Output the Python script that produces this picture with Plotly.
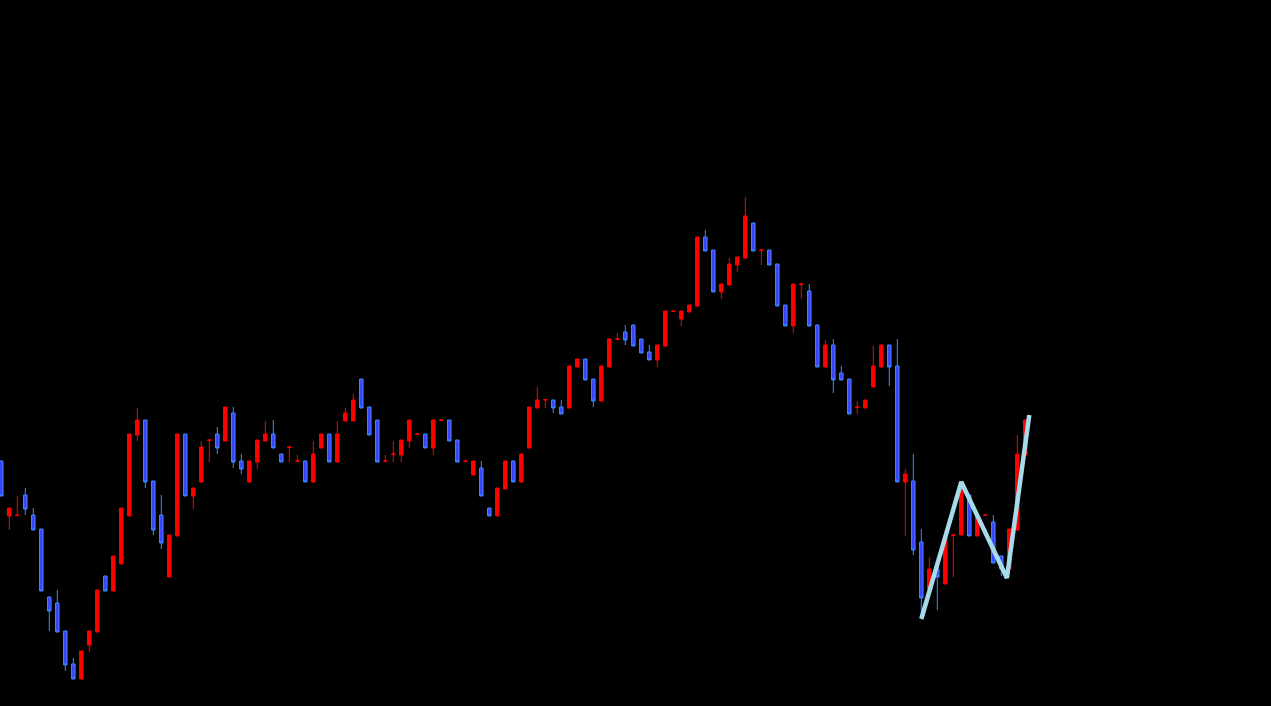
import plotly.graph_objects as go

# candle index (bar number)
bars = list(range(129))

opens = [245, 190, 190.5, 211, 191, 177, 109, 103, 75, 42,
         27, 61, 74, 130, 115, 142, 190, 271, 286, 225,
         191, 129, 170, 272, 210, 224, 265.7, 272, 265, 293,
         245, 224, 244, 265, 272, 252, 258.7, 244.7, 245, 224,
         258, 272, 244, 285, 285, 327, 299, 286, 244.7, 251.7,
         251, 265, 271.7, 272, 258, 285.7, 286, 266, 244.7, 231,
         238, 198, 190, 217, 245, 224, 258, 298, 306, 306,
         299, 298, 339, 347, 327, 305, 339, 366.7, 374, 381,
         367, 354, 346, 360, 394.7, 387, 394, 400, 469, 456,
         414, 421, 441, 448, 483, 455.7, 456, 442, 401, 380,
         421.7, 415, 381, 339, 361, 333, 327, 298.7, 298, 319,
         339, 361, 340, 224, 225, 164, 117, 137, 122, 170.7,
         171, 211, 170, 190.7, 184, 150, 137, 176, 251]

highs = [245, 198, 210, 218, 198, 177, 109, 116, 75, 48,
         55, 75, 116, 130, 150, 198, 272, 298, 286, 225,
         211, 171, 272, 272, 218, 265, 266, 279, 299, 299,
         252, 245, 266, 285, 286, 252, 259, 251, 245, 265,
         272, 272, 285, 298, 312, 327, 299, 286, 251, 265,
         266, 286, 272, 272, 286, 286, 286, 266, 245, 245,
         245, 198, 218, 245, 245, 252, 299, 319, 306.3, 306,
         306, 340, 347, 347, 327, 340, 367, 373, 381, 381,
         367, 361, 361, 395, 395, 395, 401, 469, 476, 456,
         422, 448, 449, 509, 483, 456, 456, 442, 401, 422,
         422, 422, 381, 366, 367, 340, 327, 305, 306, 360,
         361, 361, 367, 237, 252, 177, 149, 137, 168, 171,
         222, 211, 190, 191, 191, 150, 177, 271, 286]

lows = [210, 176, 190.5, 191, 176, 115, 75, 74, 35, 27,
        27, 54, 74, 115, 115, 142, 190, 265, 218, 171,
        157, 129, 170, 210, 197, 224, 244, 252, 265, 238,
        232, 224, 237, 265, 258, 244, 244, 244.7, 224, 224,
        258, 244, 244, 285, 285, 298, 271, 244, 244.7, 244,
        244, 258, 271.7, 258, 251, 285.7, 265, 244, 244.7, 231,
        210, 190, 190, 217, 224, 224, 258, 298, 298, 293,
        292, 298, 339, 326, 299, 305, 339, 366.7, 361, 360,
        353, 346, 339, 360, 394.7, 380, 394, 400, 455, 414,
        407, 421, 434, 448, 455, 441, 441, 400, 380, 373,
        407, 380, 339, 339, 313, 326, 292, 292, 298, 319,
        339, 320, 224, 170, 151, 90, 117, 96, 122, 129,
        171, 170, 170, 190.7, 143, 130, 137, 176, 251]

closes = [210, 198, 190.8, 197, 176, 115, 95, 74, 41, 27,
          55, 75, 116, 115, 150, 198, 272, 286, 224, 176,
          163, 171, 272, 210, 218, 259, 266, 258, 299, 244,
          237, 245, 266, 272, 258, 244, 259, 245, 224, 252,
          272, 244, 272, 293, 306, 298, 271, 244, 245, 252,
          266, 286, 272, 258, 286, 286, 265, 244, 245, 245,
          210, 190, 218, 245, 224, 252, 299, 306, 306.3, 298,
          292, 340, 347, 326, 305, 340, 367, 367, 366, 360,
          353, 346, 361, 395, 395, 395, 401, 469, 455, 414,
          422, 442, 449, 490, 455, 456, 441, 400, 380, 422,
          422, 380, 339, 361, 326, 326, 292, 299, 306, 340,
          361, 339, 224, 232, 156, 108, 137, 129, 168, 171,
          216, 170, 190, 191, 143, 137, 177, 252, 286]

# zigzag overlay (bar position, price)
zigzag_x = [115, 120, 125.7, 128.5]
zigzag_y = [87, 224, 128, 291]

fig = go.Figure()
fig.add_trace(go.Candlestick(
    x=bars, open=opens, high=highs, low=lows, close=closes,
    increasing=dict(line=dict(color="#ff0000", width=1), fillcolor="#ff0000"),
    decreasing=dict(line=dict(color="#3a8cff", width=1), fillcolor="#4040ff"),
    whiskerwidth=0,
    hoverinfo="skip",
))
fig.add_trace(go.Scatter(
    x=zigzag_x, y=zigzag_y, mode="lines",
    line=dict(color="#a6dcea", width=4.5),
    hoverinfo="skip",
))

fig.update_layout(
    width=1271, height=706,
    margin=dict(l=0, r=0, t=0, b=0, pad=0),
    paper_bgcolor="black", plot_bgcolor="black",
    showlegend=False,
    boxgap=0.38,
    xaxis=dict(visible=False, range=[-0.1625, 158.7125], rangeslider=dict(visible=False)),
    yaxis=dict(visible=False, range=[0, 706]),
)

fig.write_html("out.html", config={"displayModeBar": False},
               post_script="document.body.style.margin='0';document.body.style.background='black';")
